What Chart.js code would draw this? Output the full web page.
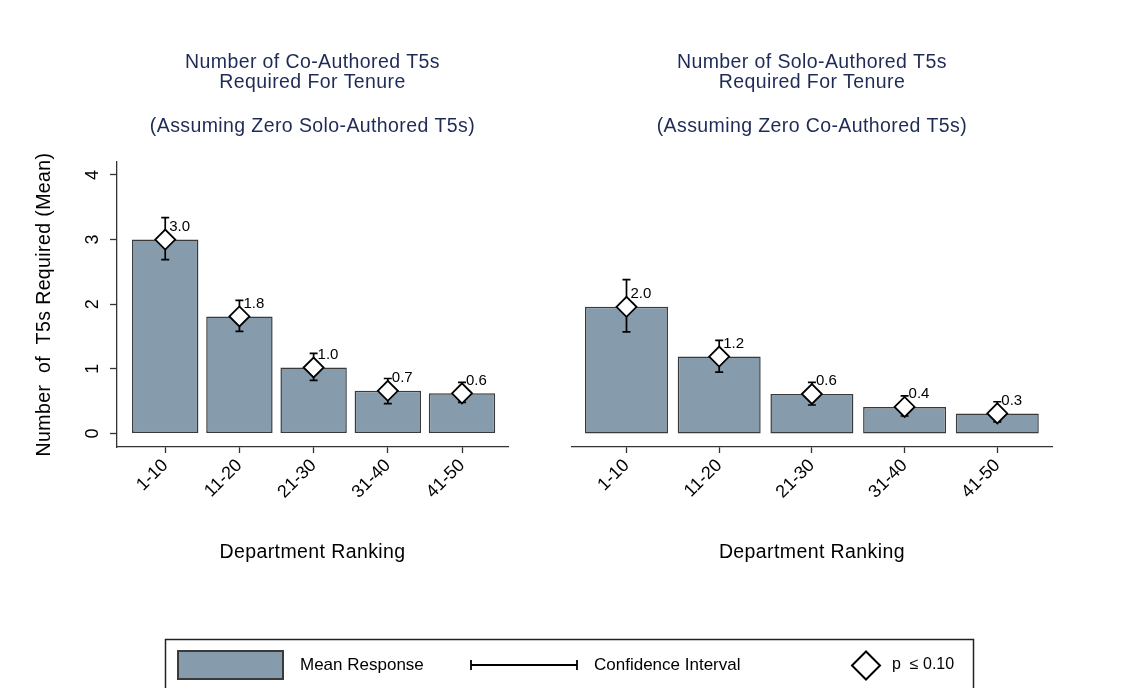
<!DOCTYPE html>
<html><head><meta charset="utf-8">
<script src="https://cdn.jsdelivr.net/npm/chart.js@4"></script>
<style>
html,body{margin:0;padding:0;background:#fff;}
#wrap{position:relative;width:1125px;height:688px;overflow:hidden;background:#fff;}
canvas{position:absolute;}
</style></head><body>
<div id="wrap">
<canvas id="c1" width="560" height="600" style="left:0;top:0;width:560px;height:600px"></canvas>
<canvas id="c2" width="565" height="600" style="left:560px;top:0;width:565px;height:600px"></canvas>
<canvas id="lg" width="1125" height="88" style="left:0;top:600px;width:1125px;height:88px"></canvas>
</div>
<script>
// ---- data ----
const categories = ['1-10', '11-20', '21-30', '31-40', '41-50'];
const coMean  = [3.00, 1.81, 1.02, 0.66, 0.62];
const coLow   = [2.69, 1.58, 0.82, 0.46, 0.48];
const coHigh  = [3.34, 2.06, 1.24, 0.85, 0.79];
const soloMean = [1.96, 1.19, 0.61, 0.41, 0.31];
const soloLow  = [1.57, 0.95, 0.44, 0.27, 0.18];
const soloHigh = [2.38, 1.44, 0.79, 0.58, 0.49];
const yTicks = [0, 1, 2, 3, 4];
const leftTitle = ['Number of Co-Authored T5s', 'Required For Tenure'];
const leftSub = '(Assuming Zero Solo-Authored T5s)';
const rightTitle = ['Number of Solo-Authored T5s', 'Required For Tenure'];
const rightSub = '(Assuming Zero Co-Authored T5s)';
const xTitle = 'Department Ranking';
const yTitle = 'Number  of  T5s Required (Mean)';
const legendLabels = ['Mean Response', 'Confidence Interval', 'p  \u2264 0.10'];

// ---- styles ----
const FONT = '"Liberation Sans", Arial, Helvetica, sans-serif';
const BAR = '#869bab';
const BAR_BORDER = '#3a3a3a';
const AXIS = '#333333';
const NAVY = '#1f2b57';

function makePlugin(cfg) {
  return {
    id: 'panel',
    afterDatasetDraw(chart, args) {
      if (args.index !== 0) return;
      const ctx = chart.ctx, xs = chart.scales.x, ys = chart.scales.y;
      ctx.save();
      ctx.strokeStyle = '#000';
      ctx.lineWidth = 1.7;
      cfg.mean.forEach((m, i) => {
        const x = xs.getPixelForValue(i + 1);
        const yl = ys.getPixelForValue(cfg.low[i]);
        const yh = ys.getPixelForValue(cfg.high[i]);
        ctx.beginPath();
        ctx.moveTo(x, yl); ctx.lineTo(x, yh);
        ctx.moveTo(x - 4, yl); ctx.lineTo(x + 4, yl);
        ctx.moveTo(x - 4, yh); ctx.lineTo(x + 4, yh);
        ctx.stroke();
      });
      ctx.restore();
    },
    afterDatasetsDraw(chart) {
      const ctx = chart.ctx, xs = chart.scales.x, ys = chart.scales.y;
      ctx.save();
      ctx.fillStyle = '#000';
      ctx.font = '15px ' + FONT;
      ctx.textAlign = 'left';
      ctx.textBaseline = 'middle';
      cfg.mean.forEach((m, i) => {
        const x = xs.getPixelForValue(i + 1);
        const y = ys.getPixelForValue(m + 0.2);
        ctx.fillText(m.toFixed(1), x + 4, y);
      });
      ctx.restore();
    },
    afterDraw(chart) {
      const ctx = chart.ctx, a = chart.chartArea;
      const cx = (a.left + a.right) / 2;
      ctx.save();
      try { ctx.letterSpacing = '0.4px'; } catch (e) {}
      ctx.textAlign = 'center';
      ctx.textBaseline = 'alphabetic';
      ctx.fillStyle = NAVY;
      ctx.font = '19.5px ' + FONT;
      ctx.fillText(cfg.title[0], cx, 68);
      ctx.fillText(cfg.title[1], cx, 87.5);
      ctx.fillText(cfg.sub, cx, 132);
      ctx.fillStyle = '#000';
      ctx.fillText(xTitle, cx, 558);
      if (cfg.showY) {
        ctx.translate(50, (a.top + a.bottom) / 2);
        ctx.rotate(-Math.PI / 2);
        ctx.fillText(yTitle, 0, 0);
      }
      ctx.restore();
    }
  };
}

function makeChart(id, cfg) {
  const pts = cfg.mean.map((v, i) => ({ x: i + 1, y: v }));
  return new Chart(document.getElementById(id), {
    type: 'bar',
    data: {
      datasets: [
        {
          type: 'bar', data: pts, order: 2,
          backgroundColor: BAR, borderColor: BAR_BORDER, borderWidth: 1.5,
          borderSkipped: false, barPercentage: 0.895, categoryPercentage: 1
        },
        {
          type: 'line', data: pts, order: 1, showLine: false,
          pointStyle: 'rectRot', pointRadius: 10, pointHoverRadius: 10,
          pointBackgroundColor: '#ffffff', pointBorderColor: '#000000', pointBorderWidth: 1.8
        }
      ]
    },
    options: {
      responsive: false, animation: false, devicePixelRatio: 1,
      layout: { padding: cfg.padding },
      plugins: { legend: { display: false }, tooltip: { enabled: false }, title: { display: false } },
      scales: {
        x: {
          type: 'linear', min: cfg.xMin, max: cfg.xMax, offset: false,
          afterBuildTicks: s => { s.ticks = categories.map((c, i) => ({ value: i + 1 })); },
          afterFit: s => { s.height = 153; },
          ticks: {
            callback: (v, i) => categories[i], autoSkip: false,
            minRotation: 45, maxRotation: 45, padding: 2,
            font: { family: FONT, size: 18 }, color: '#000'
          },
          grid: { offset: false, drawOnChartArea: false, drawTicks: true, tickLength: 6, color: AXIS, tickWidth: 1.3 },
          border: { display: true, color: AXIS, width: 1.3 }
        },
        y: {
          type: 'linear', min: -0.21, max: 4.2, display: cfg.showY,
          afterBuildTicks: s => { s.ticks = yTicks.map(v => ({ value: v })); },
          afterFit: s => { if (cfg.showY) s.width = 117; },
          ticks: {
            minRotation: 90, maxRotation: 90, crossAlign: 'center', padding: 12,
            font: { family: FONT, size: 18 }, color: '#000'
          },
          grid: { offset: false, drawOnChartArea: false, drawTicks: true, tickLength: 7, color: AXIS, tickWidth: 1.3 },
          border: { display: true, color: AXIS, width: 1.3 }
        }
      }
    },
    plugins: [makePlugin(cfg)]
  });
}

makeChart('c1', {
  mean: coMean, low: coLow, high: coHigh, title: leftTitle, sub: leftSub, showY: true,
  xMin: 0.35, xMax: 5.62, padding: { left: 0, right: 52, top: 162, bottom: 0 }
});
makeChart('c2', {
  mean: soloMean, low: soloLow, high: soloHigh, title: rightTitle, sub: rightSub, showY: false,
  xMin: 0.41, xMax: 5.59, padding: { left: 10, right: 73, top: 162, bottom: 0 }
});

// ---- legend ----
(function () {
  const c = document.getElementById('lg').getContext('2d');
  c.strokeStyle = '#222'; c.lineWidth = 1.5;
  c.strokeRect(165.5, 39.5, 808, 80);
  c.fillStyle = BAR; c.fillRect(178, 51, 105, 28);
  c.strokeStyle = BAR_BORDER; c.lineWidth = 2; c.strokeRect(178, 51, 105, 28);
  c.font = '17px ' + FONT; c.fillStyle = '#000'; c.textBaseline = 'middle'; c.textAlign = 'left';
  c.fillText(legendLabels[0], 300, 65);
  c.strokeStyle = '#000'; c.lineWidth = 1.8;
  c.beginPath();
  c.moveTo(471, 65); c.lineTo(577, 65);
  c.moveTo(471, 60); c.lineTo(471, 70);
  c.moveTo(577, 60); c.lineTo(577, 70);
  c.stroke();
  c.fillText(legendLabels[1], 594, 65);
  c.lineWidth = 2;
  c.beginPath();
  c.moveTo(852, 65.5); c.lineTo(866, 51.5); c.lineTo(880, 65.5); c.lineTo(866, 79.5); c.closePath();
  c.fillStyle = '#fff'; c.fill(); c.stroke();
  c.fillStyle = '#000';
  c.font = '16px ' + FONT;
  c.fillText(legendLabels[2], 892, 65);
})();
</script>
</body></html>
